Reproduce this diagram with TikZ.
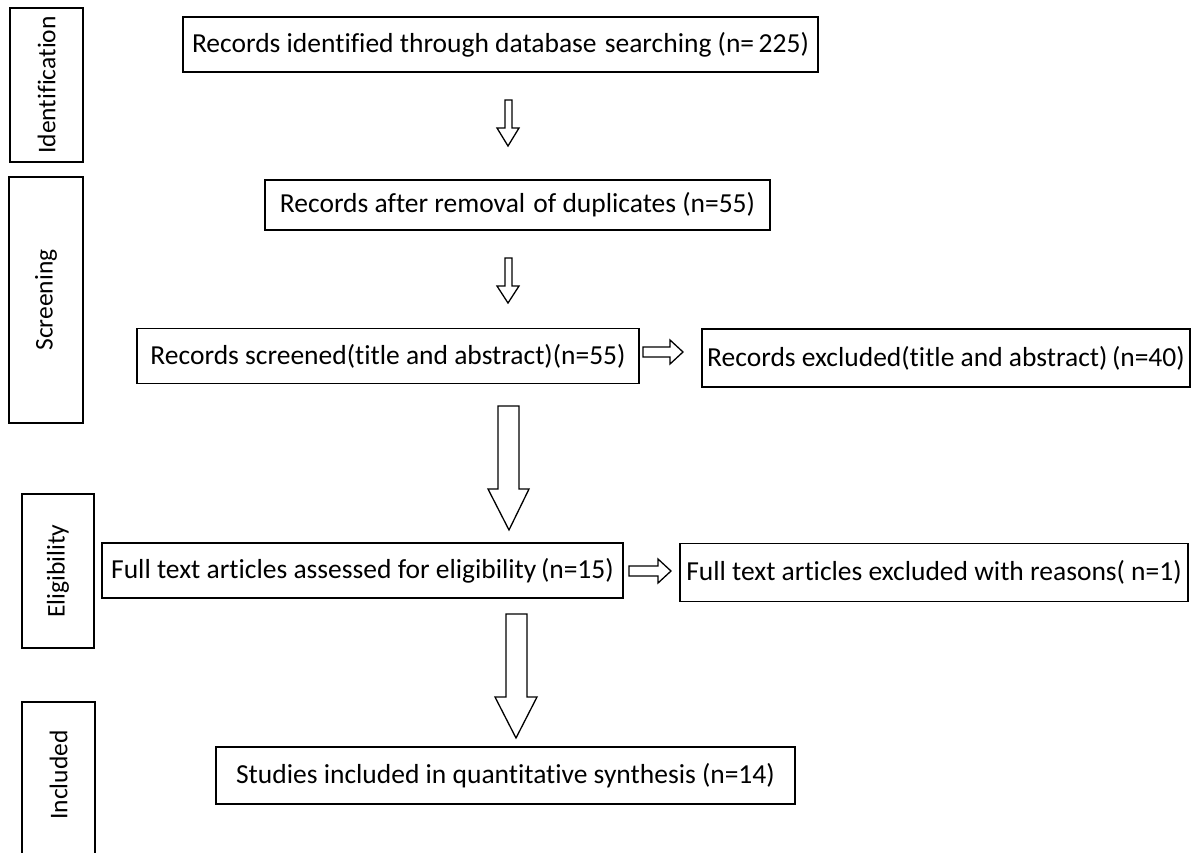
\documentclass[tikz,border=0pt]{standalone}
\usepackage{fontspec}
\setmainfont{Carlito}[Ligatures={NoCommon}]
\begin{document}
\begin{tikzpicture}[x=1pt,y=-1pt,
  box/.style={draw,line width=1.5pt,inner sep=0pt,font=\fontsize{27.5}{32}\selectfont},
  side/.style={draw,line width=1.5pt},
  sidelabel/.style={rotate=90,inner sep=0pt,font=\fontsize{25.5}{30}\selectfont},
  blockarrow/.style={draw,line width=1.3pt,fill=white,line join=miter}]
\useasboundingbox (0,0) rectangle (1193,852);
\begin{scope}
\clip (0,0) rectangle (1193,852);
% side stage boxes
\draw[side] (10,8) rectangle (83,162);
\node[sidelabel] (lid) at (46.5,85) {Identification};
\draw[side] (9,177) rectangle (83,423);
\node[sidelabel] (lscr) at (46,300) {Screening};
\draw[side] (22,494) rectangle (94,648);
\node[sidelabel] (lel) at (58,571) {Eligibility};
\draw[side] (22,702) rectangle (95,870);
\node[sidelabel] (linc) at (58.5,775) {Included};
\end{scope}
% main boxes (centre, width, height)
\node[box,minimum width=635pt,minimum height=55pt] (b1) at (500.5,44.5) {Records identified through database\hspace{2pt} searching (n=\,225)};
\node[box,minimum width=505pt,minimum height=50pt] (b2) at (517.5,205) {Records after removal\hspace{2pt} of duplicates (n=55)};
\node[box,minimum width=502pt,minimum height=55pt] (b3) at (388,356) {Records screened(title and abstract)(n=55)};
\node[box,minimum width=488pt,minimum height=58pt] (b4) at (946,358) {Records excluded(title and abstract)\,(n=40)};
\node[box,minimum width=521pt,minimum height=55pt] (b5) at (362.5,570.5) {Full text articles assessed for eligibility\,(n=15)};
\node[box,minimum width=508pt,minimum height=58pt] (b6) at (934,572.5) {Full text articles excluded with reasons( n=1)};
\node[box,minimum width=579pt,minimum height=57pt] (b7) at (505.5,775.5) {Studies included in quantitative synthesis (n=14)};
% block arrows
\draw[blockarrow] (505,100) -- (512,100) -- (512,128) -- (519,128) -- (508,146) -- (497,128) -- (505,128) -- cycle;
\draw[blockarrow] (505,258) -- (512,258) -- (512,286) -- (519,286) -- (508,303) -- (497,286) -- (505,286) -- cycle;
\draw[blockarrow] (498,406) -- (519,406) -- (519,489) -- (529,489) -- (509,530) -- (488,489) -- (498,489) -- cycle;
\draw[blockarrow] (506,614) -- (527,614) -- (527,697) -- (537,697) -- (516,738) -- (495,697) -- (506,697) -- cycle;
\draw[blockarrow] (643,347) -- (670,347) -- (670,340) -- (683,352) -- (670,364) -- (670,357) -- (643,357) -- cycle;
\draw[blockarrow] (629,566) -- (658,566) -- (658,559) -- (671,571) -- (658,583) -- (658,576) -- (629,576) -- cycle;
\end{tikzpicture}
\end{document}
